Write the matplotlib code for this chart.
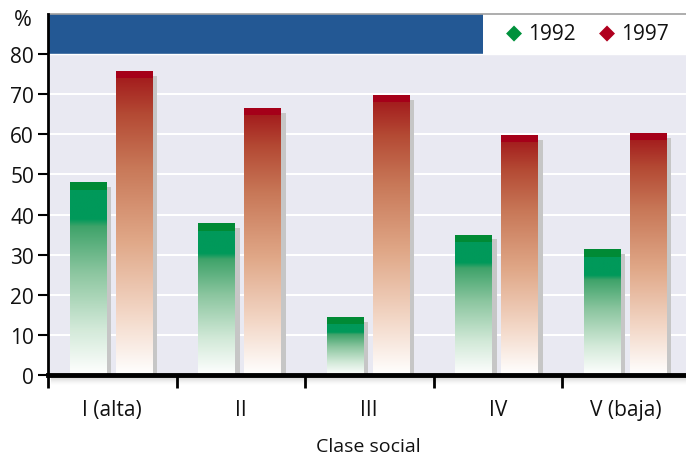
import numpy as np
import matplotlib
matplotlib.use("Agg")
import matplotlib.pyplot as plt
from matplotlib.colors import LinearSegmentedColormap
from matplotlib.patches import Rectangle

plt.rcParams['font.family'] = ['Open Sans', 'DejaVu Sans']

categories = ["I (alta)", "II", "III", "IV", "V (baja)"]
series_names = ["1992", "1997"]
values_1992 = [48, 37.8, 14.4, 35, 31.3]
values_1997 = [75.8, 66.6, 69.8, 59.9, 60.4]
y_ticks = [0, 10, 20, 30, 40, 50, 60, 70, 80]

dark_green = "#008a35"
dark_red = "#a50019"
blue_band = "#235894"
plot_bg = "#e9e9f2"

green_cmap = LinearSegmentedColormap.from_list(
    "g", [(0.0, "#ffffff"), (0.25, "#d2e9d8"), (0.55, "#8cc6a0"),
          (0.8, "#3fa36a"), (0.84, "#00995a"), (1.0, "#00995a")])
red_cmap = LinearSegmentedColormap.from_list(
    "r", [(0.0, "#ffffff"), (0.2, "#f3d8c8"), (0.45, "#e0a888"),
          (0.7, "#c87858"), (0.88, "#b44a34"), (1.0, "#a41e1e")])

fig = plt.figure(figsize=(6.86, 4.56), dpi=100)
ax = fig.add_axes([48 / 686, 1 - 376 / 456, 638 / 686, (376 - 15) / 456])
xmax = 638 / 128.5
ax.set_xlim(0, xmax)
ax.set_ylim(0, 90)
ax.patch.set_visible(False)

# plot background, header band and legend area
ax.add_patch(Rectangle((0, 0), xmax, 80, facecolor=plot_bg, edgecolor="none", zorder=0))
ax.add_patch(Rectangle((0, 80), (483 - 48) / 128.5, 10, facecolor=blue_band,
                       edgecolor="none", zorder=0))
ax.plot([0, xmax], [90, 90], color="#a0a0a0", lw=1.2, zorder=1, clip_on=False)

for y in y_ticks[1:-1]:
    ax.axhline(y, color="white", lw=1.5, zorder=1)
ax.plot([0, xmax], [80, 80], color="white", lw=1.0, zorder=1)

bar_w = 37 / 128.5
offsets = [-0.185, 0.173]
cmaps = [green_cmap, red_cmap]
tops = [dark_green, dark_red]
grad = np.linspace(0, 1, 256).reshape(-1, 1)
band_h = 1.8
sh_dx = 4.5 / 128.5
sh_dy = 1.2

for si, vals in enumerate([values_1992, values_1997]):
    for ci, v in enumerate(vals):
        x0 = ci + 0.5 + offsets[si] - bar_w / 2
        # drop shadow
        ax.add_patch(Rectangle((x0 + sh_dx, 0), bar_w, v - sh_dy,
                               facecolor="#c6c6c6", edgecolor="none", zorder=2))
        # gradient body with a solid cap
        ax.imshow(grad, cmap=cmaps[si], origin="lower", aspect="auto",
                  extent=(x0, x0 + bar_w, 0, v - band_h), zorder=3,
                  interpolation="bilinear")
        ax.add_patch(Rectangle((x0, v - band_h), bar_w, band_h,
                               facecolor=tops[si], edgecolor="none", zorder=3))

# soft shadow under the base line
for k in range(10):
    ax.add_patch(Rectangle((0.02, -0.35 - 0.25 * k), xmax, 0.25,
                           facecolor="#000000", alpha=0.22 * (1 - k / 10) ** 1.5,
                           edgecolor="none", zorder=4, clip_on=False))

ax.set_xlim(0, xmax)
ax.set_ylim(0, 90)

for s in ["top", "right"]:
    ax.spines[s].set_visible(False)
ax.spines["left"].set_linewidth(2)
ax.spines["left"].set_bounds(0, 90)
ax.spines["bottom"].set_linewidth(3.5)
ax.spines["bottom"].set_zorder(5)

ax.set_yticks(y_ticks)
ax.set_yticklabels([str(t) for t in y_ticks], fontsize=15, color="#111111")
ax.tick_params(axis="y", length=7, width=1.5, pad=3)

ax.set_xticks(range(5))
ax.set_xticklabels([])
ax.set_xticks([i + 0.5 for i in range(5)], minor=True)
ax.set_xticklabels(categories, minor=True, fontsize=15, color="#111111")
ax.tick_params(axis="x", which="major", length=9, width=2, direction="out")
ax.tick_params(axis="x", which="minor", length=0, pad=17)

fig.text(23 / 686, 1 - 20 / 456, "%", fontsize=15.5, ha="center", va="center",
         color="#111111")
fig.text(368 / 686, 1 - 447 / 456, "Clase social", fontsize=14, ha="center",
         va="center", color="#111111")

# legend in the header strip
for xm, color, name in [(514, "#00913c", series_names[0]), (607, "#b0001e", series_names[1])]:
    fig.text(xm / 686, 1 - 33 / 456, "\u25c6", fontsize=15, ha="center", va="center",
             color=color, family="DejaVu Sans")
    fig.text((xm + 14) / 686, 1 - 34 / 456, name, fontsize=15, ha="left",
             va="center", color="#111111")

fig.savefig("out.png", dpi=100)
